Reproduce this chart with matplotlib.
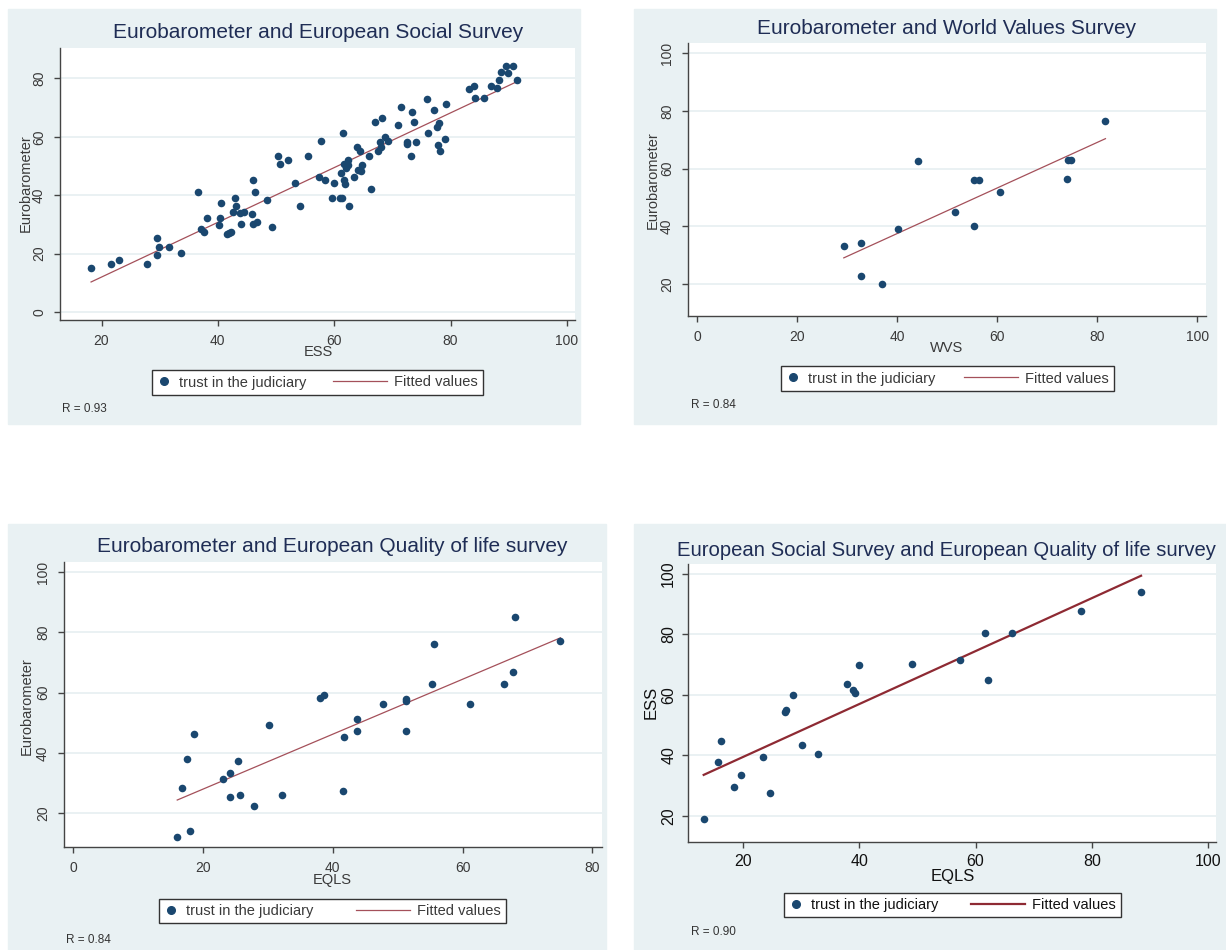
import numpy as np
import matplotlib
matplotlib.use("Agg")
import matplotlib.pyplot as plt
from matplotlib.patches import Rectangle
from matplotlib.lines import Line2D
from matplotlib.legend_handler import HandlerLine2D

plt.rcParams['font.family'] = ['Liberation Sans', 'DejaVu Sans']

# EB vs ESS
ess_x = [18.2, 21.7, 23.0, 27.8, 29.6, 29.9, 29.6, 31.6, 33.6, 36.5,
         37.1, 37.7, 38.2, 40.2, 40.4, 40.5, 41.6, 42.0, 42.3, 42.6,
         42.9, 43.2, 43.8, 43.9, 44.5, 45.9, 46.0, 46.3, 46.1, 46.7,
         48.4, 49.3, 50.3, 50.7, 52.1, 53.3, 54.2, 55.5, 57.4, 57.8,
         58.4, 59.6, 59.9, 61.0, 61.4, 61.2, 61.5, 61.7, 61.7, 61.9,
         62.1, 62.3, 62.4, 62.5, 63.4, 63.9, 64.1, 64.4, 64.6, 64.8,
         66.0, 66.4, 67.1, 67.6, 67.8, 68.1, 68.3, 68.7, 69.3, 70.9,
         71.5, 72.5, 72.6, 73.2, 73.4, 73.8, 74.0, 75.9, 76.2, 77.1,
         77.7, 77.9, 78.1, 78.2, 79.0, 79.2, 83.1, 84.1, 84.2, 85.8,
         87.0, 88.0, 88.4, 88.6, 89.5, 89.8, 90.7, 91.5]
ess_eb = [15.2, 16.3, 17.8, 16.3, 25.2, 22.4, 19.5, 22.3, 20.2, 41.2,
          28.3, 27.3, 32.3, 29.7, 32.3, 37.4, 26.6, 27.0, 27.3, 34.1,
          39.1, 36.2, 33.8, 30.2, 34.1, 33.7, 45.3, 41.2, 30.2, 30.8,
          38.3, 29.3, 53.6, 50.7, 52.2, 44.2, 36.2, 53.3, 46.2, 58.7,
          45.3, 39.1, 44.2, 39.1, 39.1, 47.7, 61.3, 50.6, 45.2, 43.8,
          49.2, 50.4, 52.2, 36.2, 46.2, 56.4, 48.7, 55.3, 48.4, 50.3,
          53.3, 42.3, 65.1, 55.3, 58.3, 56.5, 66.3, 60.1, 58.7, 64.1,
          70.2, 57.5, 58.3, 53.3, 68.4, 65.1, 58.3, 72.8, 61.3, 69.3,
          63.3, 57.1, 64.9, 55.2, 59.2, 71.3, 76.3, 77.3, 73.4, 73.4,
          77.3, 76.7, 79.3, 82.3, 84.2, 81.7, 84.2, 79.3]

# EB vs WVS
wvs_x = [29.3, 32.7, 32.7, 36.9, 40.1, 44.1, 51.6, 55.3, 55.4, 56.3, 60.5, 74.0, 74.2, 74.8, 81.6]
wvs_eb = [33.2, 34.1, 22.8, 20.1, 39.1, 62.5, 45.1, 40.1, 56.1, 56.1, 51.7, 56.4, 63.1, 63.1, 76.5]

# EB vs EQLS
eqls_x = [16.0, 16.8, 17.5, 17.9, 18.6, 23.0, 24.1, 24.2, 25.3, 25.7,
          27.8, 30.1, 32.2, 38.0, 38.7, 41.7, 41.6, 43.7, 43.7, 47.8,
          51.2, 51.2, 51.2, 55.3, 55.6, 61.2, 66.4, 67.8, 68.1, 75.1]
eqls_eb = [12.1, 28.3, 38.1, 14.2, 46.2, 31.3, 25.3, 33.4, 37.2, 26.2,
           22.3, 49.1, 26.2, 58.1, 59.2, 45.2, 27.4, 51.1, 47.3, 56.2,
           58.0, 57.2, 47.3, 63.0, 76.2, 56.2, 63.0, 66.9, 85.1, 77.0]

# ESS vs EQLS
eqls2_x = [13.2, 15.7, 16.1, 18.4, 19.7, 23.4, 24.6, 27.2, 27.4, 28.5,
           30.2, 32.8, 37.9, 38.9, 39.3, 39.9, 49.0, 57.4, 61.7, 62.1,
           66.2, 78.1, 88.5]
eqls2_ess = [18.8, 37.7, 44.6, 29.6, 33.4, 39.5, 27.4, 54.3, 54.9, 60.1,
             43.5, 40.5, 63.6, 61.5, 60.5, 69.8, 70.3, 71.6, 80.6, 64.9,
             80.6, 87.8, 93.9]

W, H = 1226, 950
BG = '#E9F1F3'
NAVY = '#1A476F'
TITLE_C = '#1F2D55'


def fx(px):
    return px / W


def fy(py):
    return 1 - py / H


class LongLine(HandlerLine2D):
    def get_xdata(self, legend, xdescent, ydescent, width, height, fontsize):
        return [-xdescent - 2.7 * fontsize, -xdescent + width], [-xdescent + width]


fig = plt.figure(figsize=(12.26, 9.5), dpi=100)


def panel(bg, box, x, y, xlim, ylim, xticks, yticks, title, title_xy, xlab, ylab,
          lab_pos, leg_box, r_text, r_xy, big=False):
    fig.add_artist(Rectangle((fx(bg[0]), fy(bg[3])), (bg[2] - bg[0]) / W, (bg[3] - bg[1]) / H,
                             transform=fig.transFigure, color=BG, zorder=-5))
    ax = fig.add_axes([fx(box[0]), fy(box[3]), (box[2] - box[0]) / W, (box[3] - box[1]) / H])
    tc = '#111111' if big else '#3a3a3a'
    fs = 11.5 if big else 10
    ax.scatter(x, y, s=30, color=NAVY, zorder=3, linewidths=0)
    b, a = np.polyfit(x, y, 1)
    xs = np.array([min(x), max(x)])
    if big:
        ax.plot(xs, a + b * xs, color='#8E2A33', lw=1.6, zorder=2)
    else:
        ax.plot(xs, a + b * xs, color='#A4505A', lw=0.9, zorder=2)
    ax.set_xlim(xlim)
    ax.set_ylim(ylim)
    ax.set_xticks(xticks)
    ax.set_yticks(yticks)
    ax.set_yticklabels([str(v) for v in yticks], rotation=90, va='center')
    ax.grid(axis='y', color='#E6EFF1', lw=1.2)
    ax.set_axisbelow(True)
    for s in ['top', 'right']:
        ax.spines[s].set_visible(False)
    for s in ['left', 'bottom']:
        ax.spines[s].set_color('#444444')
        ax.spines[s].set_linewidth(1.0)
    ax.tick_params(length=4, width=1, color='#444444', labelcolor=tc, labelsize=fs,
                   pad=4.5 if big else 6)
    if title_xy[2] == 'left':
        fig.text(fx(title_xy[0]), fy(title_xy[1]), title, ha='left', va='center',
                 fontsize=14.6, color=TITLE_C)
    else:
        fig.text(fx(title_xy[0]), fy(title_xy[1]), title, ha='center', va='center',
                 fontsize=15, color=TITLE_C)
    fig.text(fx(lab_pos[0]), fy(lab_pos[1]), xlab, ha='center', va='center', fontsize=fs + 0.5, color=tc)
    fig.text(fx(lab_pos[2]), fy(lab_pos[3]), ylab, ha='center', va='center', fontsize=fs + 0.5,
             color=tc, rotation=90)
    handles = [Line2D([], [], marker='o', ls='none', color=NAVY, ms=5.5),
               Line2D([], [], color='#8E2A33' if big else '#A4505A', lw=1.6 if big else 0.9)]
    leg = fig.legend(handles, ['trust in the judiciary', 'Fitted values'], ncol=2,
                     loc='center', mode='expand',
                     bbox_to_anchor=(fx(leg_box[0]), fy(leg_box[3]),
                                     (leg_box[2] - leg_box[0]) / W, (leg_box[3] - leg_box[1]) / H),
                     bbox_transform=fig.transFigure, fancybox=False, framealpha=1,
                     edgecolor='#333333', handlelength=1.0, handletextpad=0.5,
                     borderpad=0.35, borderaxespad=0, fontsize=10.5,
                     handler_map={handles[1]: LongLine()})
    leg.get_frame().set_linewidth(1.0)
    for t in leg.get_texts():
        t.set_color(tc)
    fig.text(fx(r_xy[0]), fy(r_xy[1]), r_text, ha='left', va='center', fontsize=8.5, color='#333333')
    return ax


panel((8, 9, 580, 424), (60, 48, 575, 320), ess_x, ess_eb, (12.86, 101.4), (-2.7, 90.4),
      [20, 40, 60, 80, 100], [0, 20, 40, 60, 80],
      'Eurobarometer and European Social Survey', (318, 33, 'center'),
      'ESS', 'Eurobarometer', (318, 352, 26, 183), (152, 369, 483, 396), 'R = 0.93', (62, 409))

panel((634, 9, 1216, 424), (688, 43, 1206, 316), wvs_x, wvs_eb, (-1.84, 101.7), (8.9, 103.5),
      [0, 20, 40, 60, 80, 100], [20, 40, 60, 80, 100],
      'Eurobarometer and World Values Survey', (947, 28, 'center'),
      'WVS', 'Eurobarometer', (947, 348, 653, 180), (781, 365, 1114, 392), 'R = 0.84', (691, 405))

panel((8, 524, 606, 950), (64, 562, 602, 847), eqls_x, eqls_eb, (-1.46, 81.5), (8.8, 103.3),
      [0, 20, 40, 60, 80], [20, 40, 60, 80, 100],
      'Eurobarometer and European Quality of life survey', (332, 547, 'center'),
      'EQLS', 'Eurobarometer', (332, 880, 27, 706), (159, 897, 506, 925), 'R = 0.84', (66, 940))

panel((634, 524, 1226, 950), (688, 564, 1216, 842), eqls2_x, eqls2_ess, (10.5, 101.4), (11.3, 103.3),
      [20, 40, 60, 80, 100], [20, 40, 60, 80, 100],
      'European Social Survey and European Quality of life survey', (677, 550, 'left'),
      'EQLS', 'ESS', (953, 877, 651, 702), (784, 892, 1121, 918), 'R = 0.90', (691, 932), big=True)

fig.savefig('out.png', dpi=100)
